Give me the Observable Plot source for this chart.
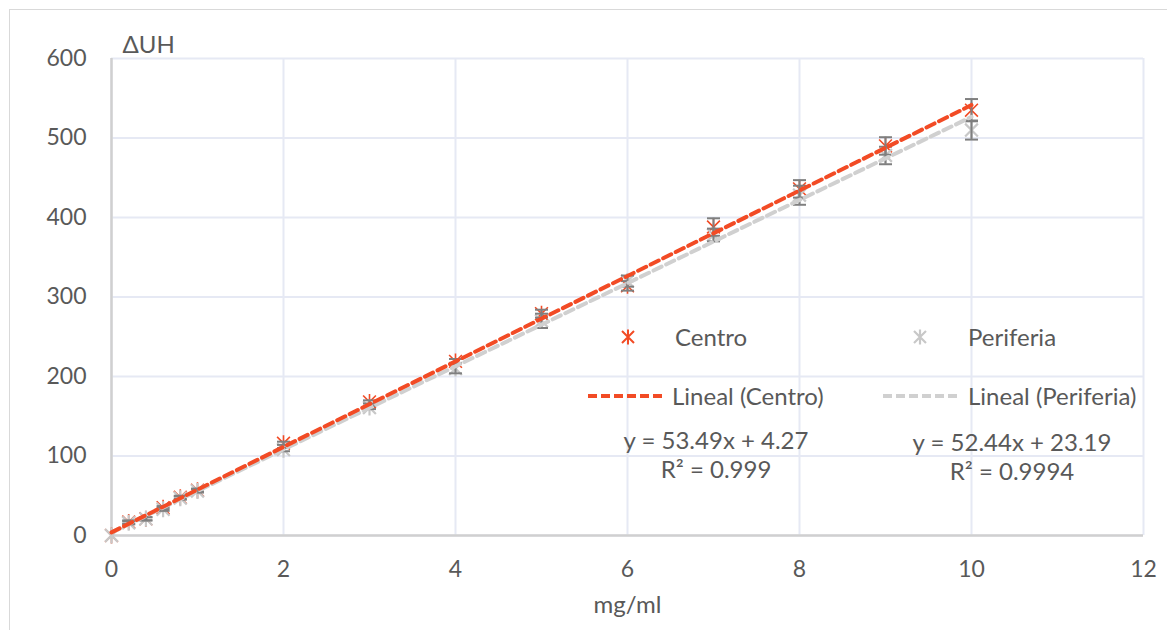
<!DOCTYPE html>
<html><head><meta charset="utf-8">
<script src="https://cdn.jsdelivr.net/npm/d3@7"></script>
<script src="https://cdn.jsdelivr.net/npm/@observablehq/plot@0.6"></script>
<style>
body{margin:0;background:#fff;font-family:Lato,sans-serif;}
#wrap{position:relative;width:1167px;height:630px;overflow:hidden;}
#frame{position:absolute;left:9px;top:9px;width:1170px;height:640px;border:1.5px solid #d9d9d9;pointer-events:none;}
.leg{position:absolute;color:#595959;font-size:24px;white-space:nowrap;line-height:1;}
.c{transform:translate(-50%,-50%);}
.l{transform:translate(0,-50%);}
svg.sym{position:absolute;overflow:visible;}
</style></head>
<body><div id="wrap"><div id="chart"></div><div id="frame"></div><div id="legend"></div></div>
<script>
const conc = [0, 0.2, 0.4, 0.6, 0.8, 1, 2, 3, 4, 5, 6, 7, 8, 9, 10];
const centro = [0, 17, 21, 35, 48, 57, 116, 168, 219, 279, 314, 388, 436, 490, 535];
const centroErr = [0, 2, 2, 2, 2, 2, 2, 2, 3, 5, 6, 11, 11, 11, 14];
const periferia = [0, 16, 21, 33, 47, 56, 108, 161, 210, 270, 320, 378, 428, 478, 510];
const periferiaErr = [0, 2, 2, 2, 2, 2, 2, 2, 6, 9, 7, 8, 12, 11, 12];
const seriesNames = ["Centro", "Periferia"];
const trendNames = ["Lineal (Centro)", "Lineal (Periferia)"];
const equations = ["y = 53.49x + 4.27", "y = 52.44x + 23.19"];
const r2Labels = ["R² = 0.999", "R² = 0.9994"];
const xTicks = [0, 2, 4, 6, 8, 10, 12];
const yTicks = [0, 100, 200, 300, 400, 500, 600];
const xTitle = "mg/ml";
const yTitle = "ΔUH";

const RED = "#f24b25", GRAY = "#c8c8c8", GRAYLINE = "#d0d0d0", ERR = "#7f7f7f", TXT = "#595959";

const star = {draw(ctx, size){const r = Math.sqrt(size/Math.PI);
  ctx.moveTo(0,-r); ctx.lineTo(0,r);
  ctx.moveTo(-r*0.8,-r*0.8); ctx.lineTo(r*0.8,r*0.8);
  ctx.moveTo(-r*0.8,r*0.8); ctx.lineTo(r*0.8,-r*0.8);}};
const cap = {draw(ctx, size){const r = Math.sqrt(size/Math.PI); ctx.moveTo(-r,0); ctx.lineTo(r,0);}};

const cData = conc.map((x,i)=>({x, y: centro[i], e: centroErr[i]}));
const pData = conc.map((x,i)=>({x, y: periferia[i], e: periferiaErr[i]}));
const errs = [...cData, ...pData].filter(d=>d.e>0);
const capsData = errs.flatMap(d=>[{x:d.x, y:d.y+d.e},{x:d.x, y:d.y-d.e}]);

const chart = Plot.plot({
  width: 1167, height: 630,
  marginLeft: 111, marginRight: 24, marginTop: 58, marginBottom: 95,
  style: {fontFamily: "Lato, sans-serif", fontSize: "23px", color: TXT, background: "white"},
  x: {domain: [0, 12]},
  y: {domain: [0, 600]},
  marks: [
    Plot.gridX(xTicks, {stroke: "#e6e9f4", strokeOpacity: 1, strokeWidth: 2}),
    Plot.gridY(yTicks, {stroke: "#e6e9f4", strokeOpacity: 1, strokeWidth: 2}),
    Plot.ruleY([0], {stroke: "#d0d0d0", strokeWidth: 2.5}),
    Plot.ruleX([0], {stroke: "#d0d0d0", strokeWidth: 2.5}),
    Plot.axisX({ticks: xTicks, tickSize: 0, tickPadding: 25, label: null}),
    Plot.axisY({ticks: yTicks, tickSize: 0, tickPadding: 25, label: null}),
    Plot.dot(cData, {x: "x", y: "y", symbol: star, r: 8, stroke: RED, strokeWidth: 1.6, fill: "none"}),
    Plot.dot(pData, {x: "x", y: "y", symbol: star, r: 8, stroke: GRAY, strokeWidth: 2.2, fill: "none"}),
    Plot.ruleX(errs, {x: "x", y1: d=>d.y-d.e, y2: d=>d.y+d.e, stroke: ERR, strokeWidth: 2}),
    Plot.dot(capsData, {x: "x", y: "y", symbol: cap, r: 6.5, stroke: ERR, strokeWidth: 2, fill: "none"}),
    Plot.linearRegressionY(pData, {x: "x", y: "y", ci: 0, stroke: GRAYLINE, strokeWidth: 4, strokeDasharray: "9,5"}),
    Plot.linearRegressionY(cData, {x: "x", y: "y", ci: 0, stroke: RED, strokeWidth: 4, strokeDasharray: "9,5"}),
    Plot.text([yTitle], {frameAnchor: "top-left", textAnchor: "start", lineAnchor: "middle", dx: 11, dy: -13, fill: TXT, fontSize: 24}),
    Plot.text([xTitle], {frameAnchor: "bottom", lineAnchor: "middle", dy: 70, fill: TXT, fontSize: 24})
  ]
});
document.getElementById("chart").append(chart);

// legend overlay
const leg = document.getElementById("legend");
function addText(txt, x, y, cls){const d=document.createElement("div"); d.className="leg "+cls; d.textContent=txt; d.style.left=x+"px"; d.style.top=y+"px"; leg.append(d);}
function addStar(cx, cy, color, sw){
  const s = d3.create("svg").attr("class","sym").attr("width",1).attr("height",1).style("left",cx+"px").style("top",cy+"px");
  const r=7.5;
  s.append("path").attr("d",`M0,${-r}L0,${r}M${-r*0.8},${-r*0.8}L${r*0.8},${r*0.8}M${-r*0.8},${r*0.8}L${r*0.8},${-r*0.8}`).attr("stroke",color).attr("stroke-width",sw).attr("fill","none");
  leg.append(s.node());
}
function addDash(x1, x2, y, color){
  const s = d3.create("svg").attr("class","sym").attr("width",1).attr("height",1).style("left","0px").style("top",y+"px");
  s.append("line").attr("x1",x1).attr("x2",x2).attr("y1",0).attr("y2",0).attr("stroke",color).attr("stroke-width",4).attr("stroke-dasharray","9,4");
  leg.append(s.node());
}
addStar(628, 337, RED, 2); addText(seriesNames[0], 675, 337, "l");
addStar(920, 337, GRAY, 2.2); addText(seriesNames[1], 968, 337, "l");
addDash(588, 666, 396, RED); addText(trendNames[0], 672, 396, "l");
addDash(883, 961, 396, GRAYLINE); addText(trendNames[1], 968, 396, "l");
addText(equations[0], 716, 440, "c"); addText(r2Labels[0], 716, 469, "c");
addText(equations[1], 1012, 442, "c"); addText(r2Labels[1], 1012, 471, "c");
</script>
</body></html>
